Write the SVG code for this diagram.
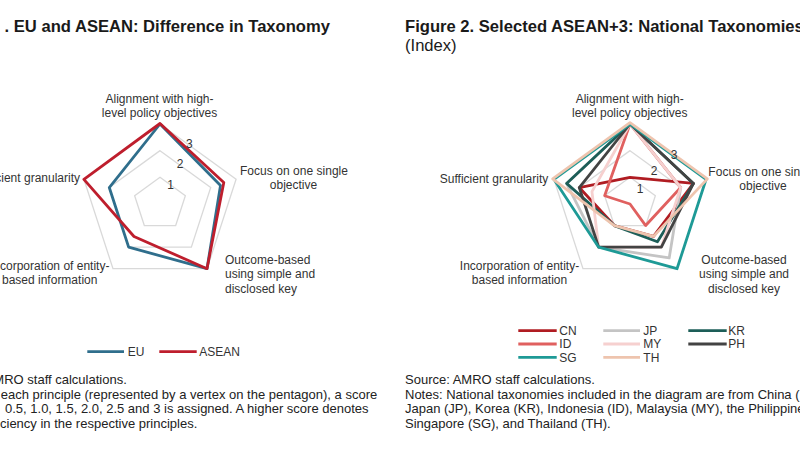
<svg xmlns="http://www.w3.org/2000/svg" width="800" height="450" viewBox="0 0 800 450">
<style>
text{font-family:"Liberation Sans",Arial,sans-serif;fill:#333}
.title{font-size:16.6px;font-weight:bold;fill:#1a1a1a}
.sub{font-size:16.6px;fill:#1a1a1a}
.lbl{font-size:12px;text-anchor:middle}
.lbs{font-size:12px}
.num{font-size:12px;text-anchor:middle}
.note{font-size:13px;fill:#222}
.leg{font-size:12px;fill:#333}
.grid{fill:none;stroke:#D9D9D9;stroke-width:1.3}
.s{fill:none;stroke-width:2.8;stroke-linejoin:round}
.l{stroke-width:2.8}
</style>
<rect width="800" height="450" fill="#fff"/>

<g id="figure1">
  <text class="title" x="330" y="31.5" text-anchor="end">. EU and ASEAN: Difference in Taxonomy</text>
  <g id="fig1-grid">
    <polygon class="grid" points="160,177.33 185.36,195.76 175.68,225.57 144.32,225.57 134.64,195.76"/>
    <polygon class="grid" points="160,150.67 210.72,187.52 191.35,247.15 128.65,247.15 109.28,187.52"/>
    <polygon class="grid" points="160,124 236.09,179.28 207.02,268.72 112.98,268.72 83.91,179.28"/>
  </g>
  <g id="fig1-series">
    <polygon id="s-EU" class="s" stroke="#2F6E8C" points="160,124 220.5,185.5 207,268.7 128.65,247.15 109.28,187.52"/>
    <polygon id="s-ASEAN" class="s" stroke="#BE1E2D" points="160,123.5 223.8,182.5 207,268.7 134,236.5 83.9,179.3"/>
  </g>
  <g id="fig1-axis-values">
    <text class="num" x="189.3" y="147.5">3</text>
    <text class="num" x="180" y="168.3">2</text>
    <text class="num" x="170.5" y="189">1</text>
  </g>
  <g id="fig1-labels">
    <text class="lbl" x="159.5" y="102.5">Alignment with high-</text>
    <text class="lbl" x="159.5" y="117">level policy objectives</text>
    <text class="lbs" x="240" y="174.5" textLength="108" lengthAdjust="spacing">Focus on one single</text>
    <text class="lbl" x="293.5" y="189">objective</text>
    <text class="lbs" x="225" y="263.5">Outcome-based</text>
    <text class="lbs" x="225" y="278">using simple and</text>
    <text class="lbs" x="225" y="292.5">disclosed key</text>
    <text class="lbl" x="49.7" y="269.5">Incorporation of entity-</text>
    <text class="lbl" x="49.7" y="283.5">based information</text>
    <text class="lbs" x="80" y="181.5" text-anchor="end">Sufficient granularity</text>
  </g>
  <g id="fig1-legend">
    <line class="l" x1="87.3" y1="351.7" x2="124" y2="351.7" stroke="#2F6E8C"/>
    <text class="leg" x="127.7" y="356">EU</text>
    <line class="l" x1="159.3" y1="351.7" x2="196.7" y2="351.7" stroke="#BE1E2D"/>
    <text class="leg" x="199.3" y="356">ASEAN</text>
  </g>
  <g id="fig1-notes">
    <text class="note" x="-63" y="383.5">Source: AMRO staff calculations.</text>
    <text class="note" x="0.7" y="398.5">each principle (represented by a vertex on the pentagon), a score</text>
    <text class="note" x="5" y="413">0.5, 1.0, 1.5, 2.0, 2.5 and 3 is assigned. A higher score denotes</text>
    <text class="note" x="0" y="428">ciency in the respective principles.</text>
  </g>
</g>

<g id="figure2">
  <text class="title" x="405" y="31.5">Figure 2. Selected ASEAN+3: National Taxonomies</text>
  <text class="sub" x="405" y="50.5">(Index)</text>
  <g id="fig2-grid">
    <polygon class="grid" points="630,177.33 655.36,195.76 645.68,225.57 614.32,225.57 604.64,195.76"/>
    <polygon class="grid" points="630,150.67 680.72,187.52 661.35,247.15 598.65,247.15 579.28,187.52"/>
    <polygon class="grid" points="630,124 706.09,179.28 677.02,268.72 582.98,268.72 553.91,179.28"/>
  </g>
  <g id="fig2-series">
    <polygon id="s-CN" class="s" stroke="#B01C22" points="630,177.33 693.41,183.4 653.51,236.36 614.33,225.57 579.28,187.52"/>
    <polygon id="s-JP" class="s" stroke="#C4C4C4" points="630,124 680.72,187.52 669.19,257.94 598.65,247.15 566.6,183.4"/>
    <polygon id="s-KR" class="s" stroke="#1D5E58" points="630,124 693.41,183.4 657.43,241.75 614.33,225.57 566.6,183.4"/>
    <polygon id="s-ID" class="s" stroke="#E0605F" points="630,124 680.72,187.52 645.68,225.57 630,204 604.64,195.76"/>
    <polygon id="s-MY" class="s" stroke="#F6D0CF" points="630,124 680.72,187.52 661.35,247.15 598.65,247.15 591.96,191.64"/>
    <polygon id="s-PH" class="s" stroke="#434343" points="630,124 693.41,183.4 661.35,247.15 598.65,247.15 579.28,187.52"/>
    <polygon id="s-SG" class="s" stroke="#1E9A96" points="630,124 706.09,179.28 677.02,268.72 598.65,247.15 553.91,179.28"/>
    <polygon id="s-TH" class="s" stroke="#EEC4AE" points="630,122.67 707.35,178.87 653.51,236.36 614.33,225.57 552.65,178.87"/>
  </g>
  <g id="fig2-axis-values">
    <text class="num" x="674" y="158.5">3</text>
    <text class="num" x="654" y="175">2</text>
    <text class="num" x="640" y="192.5">1</text>
  </g>
  <g id="fig2-labels">
    <text class="lbl" x="629.7" y="102.5">Alignment with high-</text>
    <text class="lbl" x="629.7" y="117">level policy objectives</text>
    <text class="lbs" x="708.3" y="175.5" textLength="108" lengthAdjust="spacing">Focus on one single</text>
    <text class="lbl" x="763" y="189.5">objective</text>
    <text class="lbl" x="744" y="263.5">Outcome-based</text>
    <text class="lbl" x="744" y="278">using simple and</text>
    <text class="lbl" x="744" y="292.5">disclosed key</text>
    <text class="lbl" x="519.5" y="270">Incorporation of entity-</text>
    <text class="lbl" x="519.5" y="283.5">based information</text>
    <text class="lbs" x="548.3" y="182.5" text-anchor="end">Sufficient granularity</text>
  </g>
  <g id="fig2-legend">
    <line class="l" x1="518.3" y1="330.7" x2="556.7" y2="330.7" stroke="#B01C22"/>
    <text class="leg" x="559.3" y="335">CN</text>
    <line class="l" x1="603.3" y1="330.7" x2="640" y2="330.7" stroke="#C4C4C4"/>
    <text class="leg" x="643.3" y="335">JP</text>
    <line class="l" x1="688.3" y1="330.7" x2="726.7" y2="330.7" stroke="#1D5E58"/>
    <text class="leg" x="728.3" y="335">KR</text>
    <line class="l" x1="518.3" y1="344" x2="556.7" y2="344" stroke="#E0605F"/>
    <text class="leg" x="559.3" y="348.3">ID</text>
    <line class="l" x1="603.3" y1="344" x2="640" y2="344" stroke="#F6D0CF"/>
    <text class="leg" x="643.3" y="348.3">MY</text>
    <line class="l" x1="688.3" y1="344" x2="726.7" y2="344" stroke="#434343"/>
    <text class="leg" x="728.3" y="348.3">PH</text>
    <line class="l" x1="518.3" y1="357.3" x2="556.7" y2="357.3" stroke="#1E9A96"/>
    <text class="leg" x="559.3" y="361.6">SG</text>
    <line class="l" x1="603.3" y1="357.3" x2="640" y2="357.3" stroke="#EEC4AE"/>
    <text class="leg" x="643.3" y="361.6">TH</text>
  </g>
  <g id="fig2-notes">
    <text class="note" x="405" y="383.5">Source: AMRO staff calculations.</text>
    <text class="note" x="405" y="398.5">Notes: National taxonomies included in the diagram are from China (</text>
    <text class="note" x="405" y="413">Japan (JP), Korea (KR), Indonesia (ID), Malaysia (MY), the Philippines</text>
    <text class="note" x="405" y="428">Singapore (SG), and Thailand (TH).</text>
  </g>
</g>
</svg>
